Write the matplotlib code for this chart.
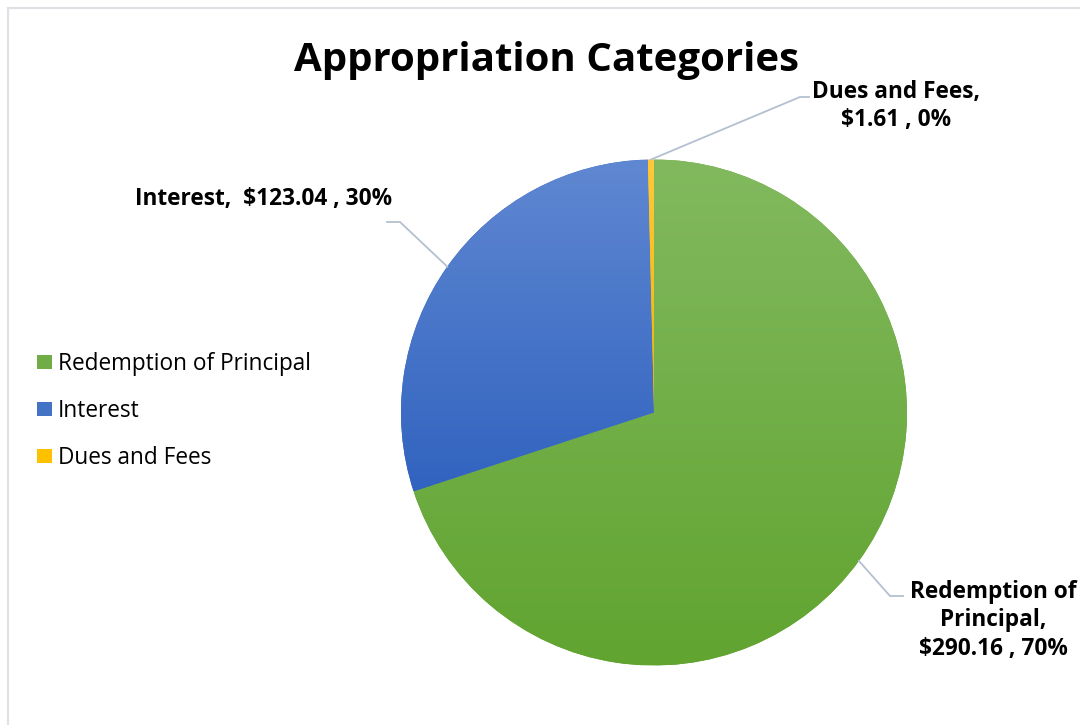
import numpy as np
import matplotlib
matplotlib.use("Agg")
import matplotlib.pyplot as plt
from matplotlib.patches import Rectangle, Patch
from matplotlib.colors import LinearSegmentedColormap

categories = ["Redemption of Principal", "Interest", "Dues and Fees"]
values = [290.16, 123.04, 1.61]
percent_labels = ["70%", "30%", "0%"]
title = "Appropriation Categories"

plt.rcParams['font.family'] = ['Open Sans', 'DejaVu Sans']

W, H = 1080, 725
fig = plt.figure(figsize=(W / 100, H / 100), dpi=100)
fig.patch.set_facecolor("white")

# frame
fig.add_artist(Rectangle((7.5 / W, -0.5), 2, (1 - 7.5 / H) + 0.5, transform=fig.transFigure,
                         facecolor="none", edgecolor="#dfe3e8", linewidth=1.6))

cx, cy, r = 654, 412.5, 253
ax = fig.add_axes([(cx - r) / W, (H - cy - r) / H, 2 * r / W, 2 * r / H])
ax.set_xlim(-1, 1)
ax.set_ylim(-1, 1)
ax.set_aspect("equal")
ax.axis("off")

solid = ["#70ad47", "#4472c4", "#ffc000"]
grads = [("#82b95f", "#61a430"), ("#6088d2", "#3163bf"), ("#ffc93a", "#f0b400")]

wedges, _ = ax.pie(values, colors=solid, startangle=90, counterclock=False, radius=1,
                   wedgeprops=dict(linewidth=0))

for w, (c1, c2) in zip(wedges, grads):
    w.set_facecolor(c2)
    path = w.get_path()
    bb = path.get_extents()
    cmap = LinearSegmentedColormap.from_list("g", [c2, c1])
    grad = np.linspace(0, 1, 256).reshape(-1, 1)
    im = ax.imshow(grad, cmap=cmap, origin="lower", aspect="auto",
                   extent=[bb.x0, bb.x1, bb.y0, bb.y1], zorder=w.get_zorder() + 0.1,
                   interpolation="bilinear")
    im.set_clip_path(w)

ax.set_xlim(-1, 1)
ax.set_ylim(-1, 1)

# data labels with leader lines
line_col = "#b4c0d0"
def px(x, y):
    return ((x - cx) / r, (cy - y) / r)

angles = []
for w in wedges:
    angles.append(np.deg2rad((w.theta1 + w.theta2) / 2))

label_specs = [
    ((890, 596), (903, 596), (993, 620), "Redemption of\nPrincipal,\n$%.2f , %s" % (values[0], percent_labels[0])),
    ((400, 222), (387, 222), (264, 199), "Interest,  $%.2f , %s" % (values[1], percent_labels[1])),
    ((800, 97), (809, 97), (896, 106), "Dues and Fees,\n$%.2f , %s" % (values[2], percent_labels[2])),
]
for ang, (elb, end, tc, txt) in zip(angles, label_specs):
    sx, sy = np.cos(ang), np.sin(ang)
    ex, ey = px(*elb)
    nx, ny = px(*end)
    ax.plot([sx, ex, nx], [sy, ey, ny], color=line_col, lw=1.3, clip_on=False, zorder=5)
    tx, ty = px(*tc)
    ax.text(tx, ty, txt, ha="center", va="center", fontsize=16.3, fontweight="bold",
            color="black", linespacing=1.25, clip_on=False)

fig.text(546 / W, 1 - 61 / H, title, ha="center", va="center", fontsize=29,
         fontweight="bold", color="black")

handles = [Patch(facecolor=c, edgecolor="none") for c in solid]
fig.legend(handles, categories, loc="center left", bbox_to_anchor=(16.5 / W, 1 - 411 / H),
           frameon=False, fontsize=16.3, handlelength=0.65, handleheight=0.55,
           handletextpad=0.28, labelspacing=1.02)

fig.savefig("out.png", dpi=100, facecolor="white")
